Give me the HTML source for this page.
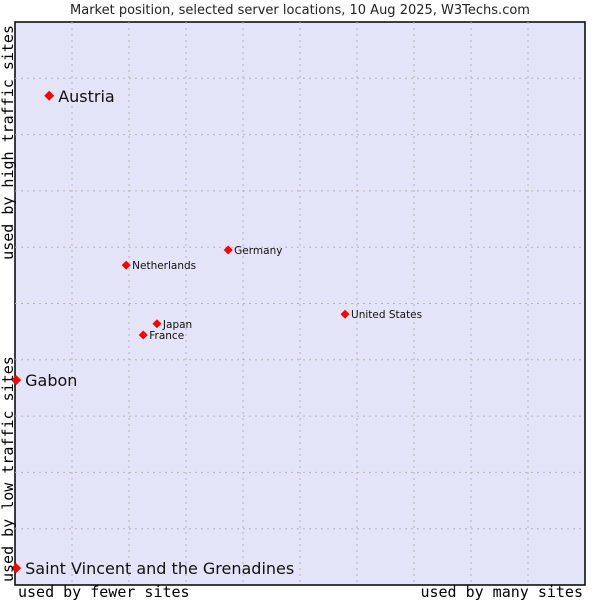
<!DOCTYPE html>
<html><head><meta charset="utf-8"><style>
html,body{margin:0;padding:0;background:#fff;width:600px;height:600px;overflow:hidden}
</style></head><body>
<svg id="chart" width="600" height="600" xmlns="http://www.w3.org/2000/svg" font-family="'DejaVu Sans','Liberation Sans',sans-serif">
<text x="300" y="14" text-anchor="middle" font-size="13" fill="#222">Market position, selected server locations, 10 Aug 2025, W3Techs.com</text>
<rect x="15" y="22" width="570" height="563" fill="#e3e4f8" stroke="#000" stroke-width="1.5"/>
<g id="grid"></g>
<g id="points"></g>
<text x="18" y="597" font-family="'DejaVu Sans Mono','Liberation Mono',monospace" font-size="15" fill="#000">used by fewer sites</text>
<text x="583" y="597" text-anchor="end" font-family="'DejaVu Sans Mono','Liberation Mono',monospace" font-size="15" fill="#000">used by many sites</text>
<text transform="translate(13,25) rotate(-90)" text-anchor="end" font-family="'DejaVu Sans Mono','Liberation Mono',monospace" font-size="15" fill="#000">used by high traffic sites</text>
<text transform="translate(13,582) rotate(-90)" font-family="'DejaVu Sans Mono','Liberation Mono',monospace" font-size="15" fill="#000">used by low traffic sites</text>
</svg>
<script>
const countries = ["Austria","Gabon","Saint Vincent and the Grenadines","Germany","Netherlands","Japan","France","United States"];
const xValues = [6.0, 0.2, 0.2, 37.4, 19.5, 24.9, 22.5, 57.9];
const yValues = [86.9, 36.4, 3.0, 59.5, 56.8, 46.4, 44.4, 48.1];
const bigLabel = [true, true, true, false, false, false, false, false];
const gridTicks = [10,20,30,40,50,60,70,80,90];

const L=15,R=585,T=22,B=585;
function sx(v){return L+(R-L)*v/100;}
function sy(v){return B-(B-T)*v/100;}
const NS="http://www.w3.org/2000/svg";
const grid=document.getElementById('grid');
gridTicks.forEach(t=>{
  const v=document.createElementNS(NS,'line');
  
  
  v.setAttribute('x1',sx(t));v.setAttribute('x2',sx(t));v.setAttribute('y1',T);v.setAttribute('y2',B);
  v.setAttribute('stroke','#b4b4b4');v.setAttribute('stroke-dasharray','2,4');
  grid.appendChild(v);
  const h=document.createElementNS(NS,'line');
  
  
  h.setAttribute('x1',L);h.setAttribute('x2',R);h.setAttribute('y1',sy(t));h.setAttribute('y2',sy(t));
  h.setAttribute('stroke','#b4b4b4');h.setAttribute('stroke-dasharray','2,4');
  grid.appendChild(h);
});
const pts=document.getElementById('points');
countries.forEach((c,i)=>{
  const x=sx(xValues[i]),y=sy(yValues[i]);
  const d=document.createElementNS(NS,'path');
  
  
  const r=bigLabel[i]?5:4.5;
  d.setAttribute('d',`M${x-r},${y} L${x},${y-r} L${x+r},${y} L${x},${y+r} Z`);
  d.setAttribute('fill','#f00');
  pts.appendChild(d);
  const t=document.createElementNS(NS,'text');
  
  
  t.setAttribute('x',x+(bigLabel[i]?9:6));
  t.setAttribute('y',y+(bigLabel[i]?6:4));
  t.setAttribute('font-size',bigLabel[i]?16:10.5);
  t.setAttribute('fill','#111');
  t.textContent=c;
  pts.appendChild(t);
});
</script>
</body></html>
